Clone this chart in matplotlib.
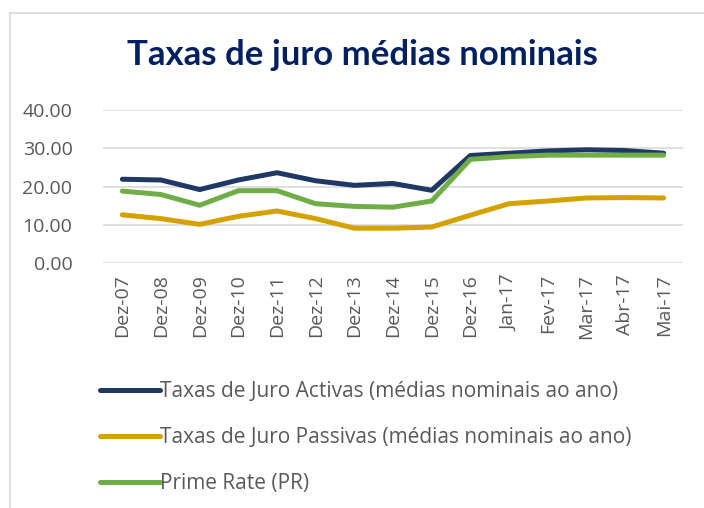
import matplotlib
matplotlib.use("Agg")
import matplotlib.pyplot as plt
from matplotlib.lines import Line2D

# Data
periods = ["Dez-07", "Dez-08", "Dez-09", "Dez-10", "Dez-11", "Dez-12", "Dez-13",
           "Dez-14", "Dez-15", "Dez-16", "Jan-17", "Fev-17", "Mar-17", "Abr-17", "Mai-17"]
activas = [21.9, 21.7, 19.2, 21.7, 23.6, 21.5, 20.3, 20.8, 19.0, 28.1, 28.7, 29.3, 29.6, 29.4, 28.7]
passivas = [12.6, 11.6, 10.1, 12.2, 13.6, 11.6, 9.1, 9.1, 9.4, 12.5, 15.5, 16.2, 17.0, 17.1, 17.0]
prime_rate = [18.8, 17.9, 15.1, 18.9, 18.9, 15.5, 14.8, 14.6, 16.2, 27.1, 27.8, 28.2, 28.2, 28.2, 28.2]
y_ticks = [0, 10, 20, 30, 40]

labels = ["Taxas de Juro Activas (médias nominais ao ano)",
          "Taxas de Juro Passivas (médias nominais ao ano)",
          "Prime Rate (PR)"]
colors = ["#203864", "#D4A100", "#70AD47"]

plt.rcParams["font.family"] = ["Open Sans", "DejaVu Sans"]

fig = plt.figure(figsize=(7.04, 5.08), dpi=100)
ax = fig.add_axes([103 / 704, 1 - 263 / 508, 580 / 704, 153 / 508])

x = list(range(len(periods)))
for values, label, color in zip([activas, passivas, prime_rate], labels, colors):
    ax.plot(x, values, color=color, linewidth=3.6, label=label, solid_capstyle="round")

ax.set_xlim(-0.5, len(periods) - 0.5)
ax.set_ylim(0, 40)
ax.set_yticks(y_ticks)
ax.set_yticklabels([f"{v:.2f}" for v in y_ticks], fontsize=14, color="#595959")
ax.set_xticks(x)
ax.set_xticklabels(periods, rotation=90, fontsize=14, color="#595959")
ax.tick_params(length=0, pad=8)
ax.tick_params(axis="y", pad=22)
ax.grid(axis="y", color="#D9D9D9", linewidth=1.2)
ax.set_axisbelow(True)
for spine in ax.spines.values():
    spine.set_visible(False)

fig.text(362 / 704, 1 - 55 / 508, "Taxas de juro médias nominais", ha="center", va="center",
         fontsize=25, fontweight="bold", color="#002060", family=["Lato", "DejaVu Sans"])

handles, lbls = ax.get_legend_handles_labels()
fig.legend(handles, lbls, loc="upper left", bbox_to_anchor=(100 / 704, 1 - 381 / 508),
           frameon=False, fontsize=15, handlelength=2.9, handletextpad=0.0,
           labelspacing=1.2, labelcolor="#595959", borderpad=0, borderaxespad=0)

# chart frame
fig.add_artist(Line2D([10 / 704, 10 / 704], [0, 1 - 13 / 508], transform=fig.transFigure,
                      color="#D9D9D9", linewidth=1.2))
fig.add_artist(Line2D([10 / 704, 1], [1 - 13 / 508, 1 - 13 / 508], transform=fig.transFigure,
                      color="#D9D9D9", linewidth=1.2))

fig.savefig("out.png", dpi=100)
